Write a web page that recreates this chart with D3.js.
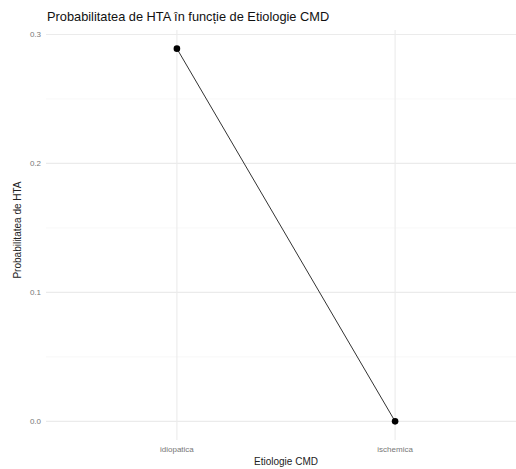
<!DOCTYPE html>
<html>
<head>
<meta charset="utf-8">
<script src="https://cdn.jsdelivr.net/npm/d3@7"></script>
<style>
  html, body { margin: 0; padding: 0; background: #fff; }
  svg { display: block; font-family: "Liberation Sans", Arial, sans-serif; }
</style>
</head>
<body>
<svg id="chart" width="516" height="469"></svg>
<script>
// Probability of HTA by CMD etiology
const categories = ["idiopatica", "ischemica"];
const probabilities = [0.289, 0.0];
const yTicks = [0.0, 0.1, 0.2, 0.3];
const yMinorTicks = [0.05, 0.15, 0.25];

const svg = d3.select("#chart");
const panel = { left: 46, right: 526, top: 30, bottom: 440 };

// discrete x scale with 0.6 expansion on each side
const xIndex = d3.scaleLinear()
  .domain([1 - 0.6, categories.length + 0.6])
  .range([panel.left, panel.right]);
const x = c => xIndex(categories.indexOf(c) + 1);

const yMax = d3.max(probabilities), yMin = d3.min(probabilities);
const pad = (yMax - yMin) * 0.05;
const y = d3.scaleLinear()
  .domain([yMin - pad, yMax + pad])
  .range([panel.bottom, panel.top]);

svg.append("defs").append("clipPath").attr("id", "panel")
  .append("rect")
  .attr("x", panel.left).attr("y", panel.top)
  .attr("width", panel.right - panel.left).attr("height", panel.bottom - panel.top);

const grid = svg.append("g").attr("clip-path", "url(#panel)");

// minor horizontal grid
grid.selectAll(".ymin").data(yMinorTicks).enter().append("line")
  .attr("x1", panel.left).attr("x2", panel.right)
  .attr("y1", d => y(d)).attr("y2", d => y(d))
  .attr("stroke", "#f3f3f3").attr("stroke-width", 0.6);

// major horizontal grid
grid.selectAll(".ymaj").data(yTicks).enter().append("line")
  .attr("x1", panel.left).attr("x2", panel.right)
  .attr("y1", d => y(d)).attr("y2", d => y(d))
  .attr("stroke", "#ebebeb").attr("stroke-width", 1.1);

// vertical grid at categories
grid.selectAll(".xmaj").data(categories).enter().append("line")
  .attr("x1", d => x(d)).attr("x2", d => x(d))
  .attr("y1", panel.top).attr("y2", panel.bottom)
  .attr("stroke", "#ebebeb").attr("stroke-width", 1.1);

// y tick labels
svg.selectAll(".ylab").data(yTicks).enter().append("text")
  .attr("x", panel.left - 5).attr("y", d => y(d))
  .attr("dy", "0.35em").attr("text-anchor", "end")
  .attr("font-size", 8).attr("fill", "#777")
  .text(d => d3.format(".1f")(d));

// x tick labels
svg.selectAll(".xlab").data(categories).enter().append("text")
  .attr("x", d => x(d)).attr("y", panel.bottom + 12)
  .attr("text-anchor", "middle")
  .attr("font-size", 8).attr("fill", "#777")
  .text(d => d);

// line + points
const data = categories.map((c, i) => ({ c, v: probabilities[i] }));
svg.append("path")
  .datum(data)
  .attr("fill", "none").attr("stroke", "#333").attr("stroke-width", 1)
  .attr("d", d3.line().x(d => x(d.c)).y(d => y(d.v)));

svg.selectAll(".pt").data(data).enter().append("circle")
  .attr("cx", d => x(d.c)).attr("cy", d => y(d.v))
  .attr("r", 3.3).attr("fill", "#000");

// axis titles
svg.append("text")
  .attr("x", (panel.left + panel.right) / 2).attr("y", 465)
  .attr("text-anchor", "middle").attr("font-size", 10).attr("fill", "#222")
  .text("Etiologie CMD");

svg.append("text")
  .attr("transform", "translate(21,230) rotate(-90)")
  .attr("text-anchor", "middle").attr("font-size", 10).attr("fill", "#222")
  .text("Probabilitatea de HTA");

// title
svg.append("text")
  .attr("x", 47).attr("y", 21)
  .attr("text-anchor", "start")
  .attr("font-size", 12.8).attr("fill", "#111")
  .text("Probabilitatea de HTA în funcție de Etiologie CMD");
</script>
</body>
</html>
